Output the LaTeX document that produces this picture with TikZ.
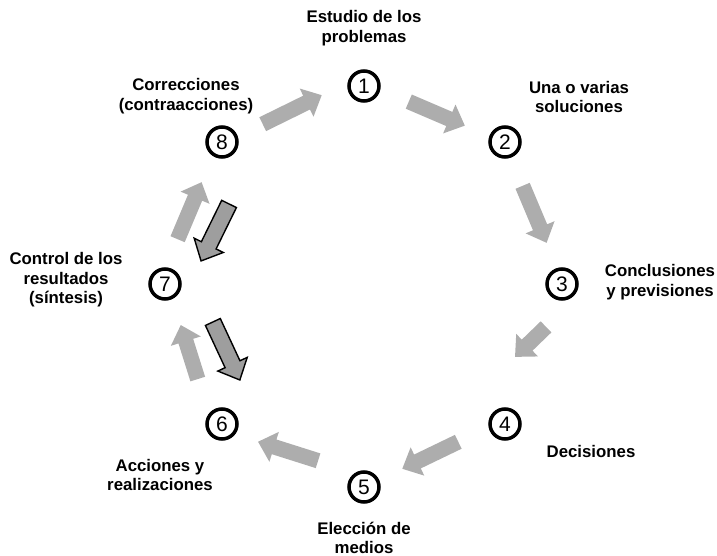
\documentclass[tikz,border=0pt]{standalone}
\usepackage{fontspec}
\setmainfont{Liberation Sans}
\usetikzlibrary{shapes.arrows,calc}
\tikzset{
  num/.style={circle,draw=black,line width=3.5pt,minimum size=30pt,inner sep=0pt,font=\fontsize{21}{21}\selectfont},
  lbl/.style={align=center,font=\fontsize{16.8}{19.5}\selectfont\bfseries},
  lightarrow/.style={fill=black!32,draw=none},
  darkarrow/.style={fill=black!38,draw=black,line width=1.4pt},
}
\newcommand\blockarrow[3]{%
  \path let \p1=(#2), \p2=(#3), \n1={atan2(\y2-\y1,\x2-\x1)}, \n2={veclen(\x2-\x1,\y2-\y1)} in
    node[single arrow,#1,rotate=\n1,minimum height=\n2,
         inner xsep=0pt,inner ysep=7.5pt,text width=0pt,
         single arrow head extend=8pt,single arrow tip angle=86,
         shape border uses incircle=false] at ($(#2)!0.5!(#3)$) {};}
\begin{document}
\begin{tikzpicture}[x=1pt,y=-1pt]
\useasboundingbox (0,0) rectangle (717,556);
% numbered circles
\node[num] (n1) at (364,86) {1};
\node[num] (n2) at (505,142) {2};
\node[num] (n3) at (562,284) {3};
\node[num] (n4) at (505,424) {4};
\node[num] (n5) at (364,487) {5};
\node[num] (n6) at (222,424) {6};
\node[num] (n7) at (165,284) {7};
\node[num] (n8) at (222,142) {8};
% labels
\node[lbl] (t1) at (364,28) {Estudio de los\\problemas};
\node[lbl] (t2) at (579,97) {Una o varias\\soluciones};
\node[lbl] (t3) at (660,282) {Conclusiones\\y previsiones};
\node[lbl] (t4) at (591,451) {Decisiones};
\node[lbl] (t5) at (364,538) {Elección de\\medios};
\node[lbl] (t6) at (160,475) {Acciones y\\realizaciones};
\node[lbl] (t7) at (66,280) {Control de los\\resultados\\(síntesis)};
\node[lbl] (t8) at (186,96) {Correcciones\\(contraacciones)};
% arrow end points
\coordinate (a81) at (259,126); \coordinate (b81) at (318,97);
\coordinate (a12) at (405,100); \coordinate (b12) at (461,124);
\coordinate (a23) at (521,182); \coordinate (b23) at (545,239);
\coordinate (a34) at (549,324); \coordinate (b34) at (518,354);
\coordinate (a45) at (462,440); \coordinate (b45) at (406,467);
\coordinate (a56) at (322,462); \coordinate (b56) at (262,443);
\coordinate (a67) at (199,383); \coordinate (b67) at (182,329);
\coordinate (a78) at (176,243); \coordinate (b78) at (200,186);
\coordinate (a87) at (231,200); \coordinate (b87) at (203,257);
\coordinate (a76) at (211,318); \coordinate (b76) at (238,376);
\blockarrow{lightarrow}{a81}{b81}
\blockarrow{lightarrow}{a12}{b12}
\blockarrow{lightarrow}{a23}{b23}
\blockarrow{lightarrow}{a34}{b34}
\blockarrow{lightarrow}{a45}{b45}
\blockarrow{lightarrow}{a56}{b56}
\blockarrow{lightarrow}{a67}{b67}
\blockarrow{lightarrow}{a78}{b78}
\blockarrow{darkarrow}{a87}{b87}
\blockarrow{darkarrow}{a76}{b76}
\end{tikzpicture}
\end{document}
